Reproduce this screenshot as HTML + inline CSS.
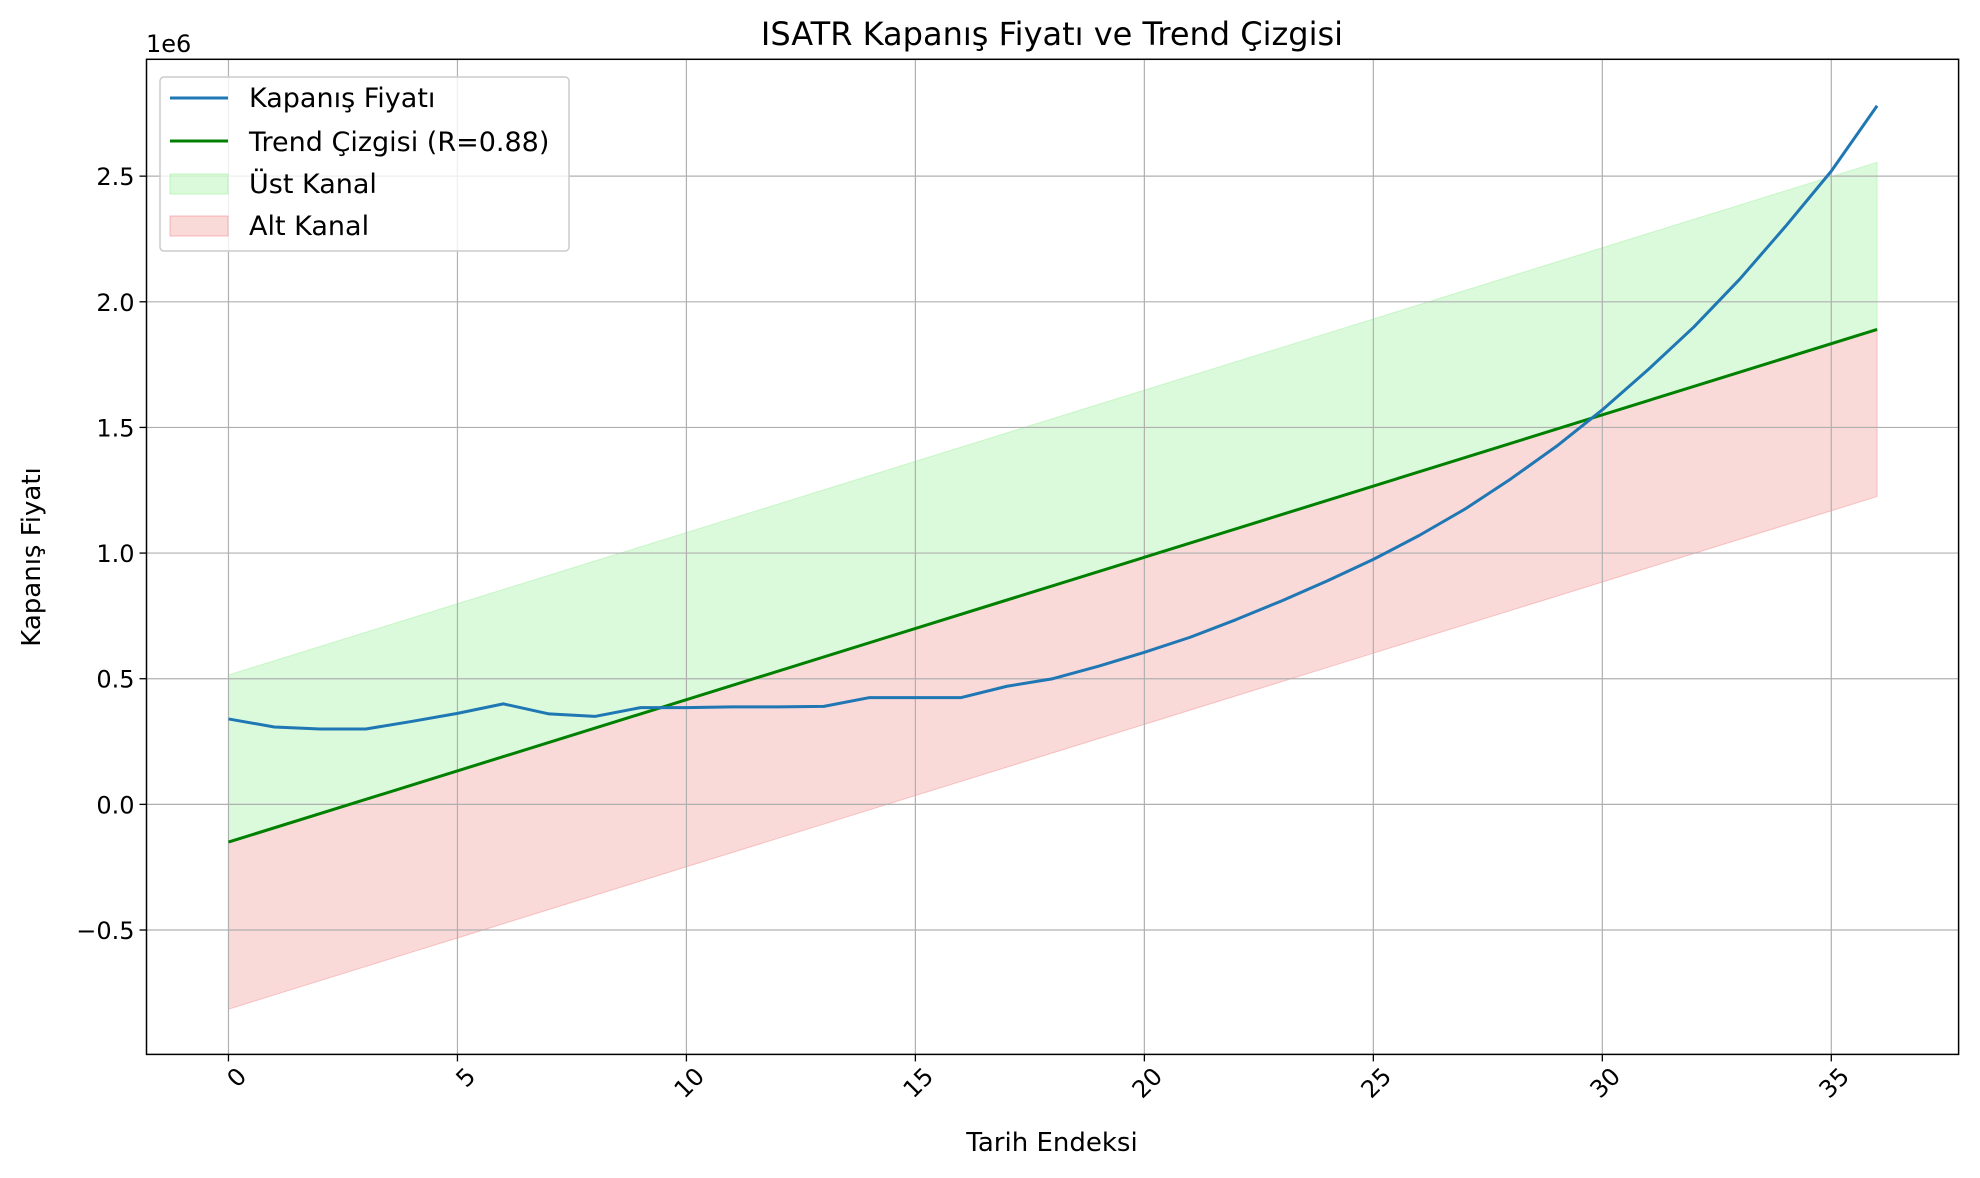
<!DOCTYPE html>
<html><head><meta charset="utf-8"><style>
body{margin:0;background:#fff;}
svg{display:block;font-family:"DejaVu Sans","Liberation Sans",sans-serif;}
</style></head><body>
<svg id="chart" width="1980" height="1178"></svg>
<script>
const xIdx=[0,1,2,3,4,5,6,7,8,9,10,11,12,13,14,15,16,17,18,19,20,21,22,23,24,25,26,27,28,29,30,31,32,33,34,35,36];
const closePrice=[340,308,300,300,330,362,400,360,350,385,385,388,388,390,425,425,425,470,500,550,605,665,735,810,890,975,1070,1175,1295,1425,1570,1730,1900,2090,2300,2520,2780];
const trendStart=-150, trendEnd=1890, channelOffset=665;
const xTicks=[0,5,10,15,20,25,30,35];
const yTicks=[-0.5,0,0.5,1,1.5,2,2.5];
const yTickLabels=["\u22120.5","0.0","0.5","1.0","1.5","2.0","2.5"];

const L=146.5,R=1958.6,T=59.3,B=1054.4;
const xmin=-1.79,xmax=37.78,ymin=-0.995,ymax=2.965;
const sx=v=>L+(v-xmin)/(xmax-xmin)*(R-L);
const sy=v=>B-(v-ymin)/(ymax-ymin)*(B-T);
const NS="http://www.w3.org/2000/svg";
const svg=document.getElementById('chart');
function mk(tag,attrs,parent){const e=document.createElementNS(NS,tag);for(const k in attrs)e.setAttribute(k,attrs[k]);(parent||svg).appendChild(e);return e;}
const n=xIdx.length-1;
const trend=i=>(trendStart+(trendEnd-trendStart)*i/n)/1000;
let up=[],lo=[];
xIdx.forEach(i=>{up.push(sx(i)+','+sy(trend(i)+channelOffset/1000));});
for(let k=xIdx.length-1;k>=0;k--){up.push(sx(xIdx[k])+','+sy(trend(xIdx[k])));}
xIdx.forEach(i=>{lo.push(sx(i)+','+sy(trend(i)));});
for(let k=xIdx.length-1;k>=0;k--){lo.push(sx(xIdx[k])+','+sy(trend(xIdx[k])-channelOffset/1000));}
let e=mk('polygon',{points:up.join(' '),fill:'#90ee90','fill-opacity':0.32,stroke:'#90ee90','stroke-opacity':0.4});


e=mk('polygon',{points:lo.join(' '),fill:'#f08080','fill-opacity':0.3,stroke:'#f08080','stroke-opacity':0.4});


xTicks.forEach(t=>{const g=mk('line',{x1:sx(t),x2:sx(t),y1:T,y2:B,stroke:'#b0b0b0','stroke-width':1.2});

});
yTicks.forEach(t=>{const g=mk('line',{x1:L,x2:R,y1:sy(t),y2:sy(t),stroke:'#b0b0b0','stroke-width':1.2});

});
e=mk('line',{x1:sx(0),y1:sy(trend(0)),x2:sx(n),y2:sy(trend(n)),stroke:'#008000','stroke-width':3});


e=mk('polyline',{points:xIdx.map((i,k)=>sx(i)+','+sy(closePrice[k]/1000)).join(' '),fill:'none',stroke:'#1f77b4','stroke-width':3,'stroke-linejoin':'round'});


e=mk('rect',{x:L,y:T,width:R-L,height:B-T,fill:'none',stroke:'#000','stroke-width':1.5});


xTicks.forEach(t=>{mk('line',{x1:sx(t),x2:sx(t),y1:B,y2:B+7,stroke:'#000','stroke-width':1.3});
const x=sx(t)+7,y=B+11;
const tx=mk('text',{x:x,y:y,'font-size':24,'text-anchor':'end','dominant-baseline':'hanging',transform:`rotate(-45 ${x} ${y})`});
tx.textContent=t;

});
yTicks.forEach((t,k)=>{mk('line',{x1:L-7,x2:L,y1:sy(t),y2:sy(t),stroke:'#000','stroke-width':1.3});
const tx=mk('text',{x:L-12,y:sy(t)+9,'font-size':24,'text-anchor':'end'});
tx.textContent=yTickLabels[k];

});
</script>
<svg style="position:absolute;left:0;top:0" width="1980" height="1178">
<g font-family="DejaVu Sans, Liberation Sans, sans-serif" fill="#000">
<text x="146" y="52" font-size="24">1e6</text>
<text x="1052" y="45" font-size="32" text-anchor="middle">ISATR Kapanış Fiyatı ve Trend Çizgisi</text>
<text x="1052" y="1151" font-size="26" text-anchor="middle">Tarih Endeksi</text>
<text x="40" y="557" font-size="26" text-anchor="middle" transform="rotate(-90 40 557)">Kapanış Fiyatı</text>
<g>
<rect x="160" y="77" width="409" height="174" rx="4" fill="#fff" fill-opacity="0.8" stroke="#ccc" stroke-width="1.5"/>
<line x1="170" y1="98" x2="228" y2="98" stroke="#1f77b4" stroke-width="3"/>
<text x="249" y="107" font-size="27">Kapanış Fiyatı</text>
<line x1="170" y1="141" x2="228" y2="141" stroke="#008000" stroke-width="3"/>
<text x="249" y="151" font-size="27">Trend Çizgisi (R=0.88)</text>
<rect x="170" y="174" width="58" height="20" fill="#90ee90" fill-opacity="0.32" stroke="#90ee90" stroke-opacity="0.5"/>
<text x="249" y="193" font-size="27">Üst Kanal</text>
<rect x="170" y="216" width="58" height="20" fill="#f08080" fill-opacity="0.3" stroke="#f08080" stroke-opacity="0.5"/>
<text x="249" y="235" font-size="27">Alt Kanal</text>
</g>
</g>
</svg>
</body></html>
